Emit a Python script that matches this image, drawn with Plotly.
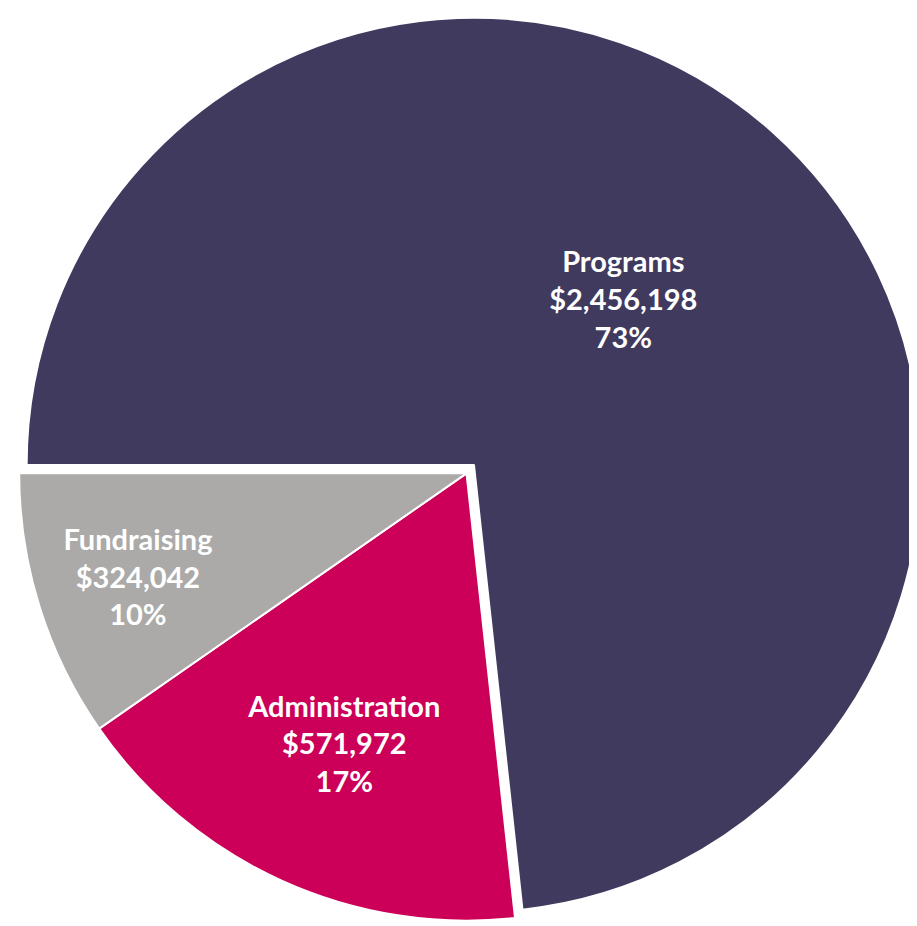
import plotly.graph_objects as go

categories = ["Programs", "Administration", "Fundraising"]
amounts = [2456198, 571972, 324042]
colors = ["#403a5f", "#cc0058", "#abaaa8"]
pulls = [0.025, 0, 0]

fig = go.Figure(go.Pie(
    labels=categories,
    values=amounts,
    sort=False,
    direction="clockwise",
    rotation=-90,
    pull=pulls,
    marker=dict(colors=colors, line=dict(color="white", width=2)),
    texttemplate="<b>%{label}</b><br><b>$%{value:,}</b><br><b>%{percent:.0%}</b>",
    textposition="inside",
    insidetextorientation="horizontal",
    textfont=dict(family="Lato", size=29, color="white"),
    hoverinfo="label+value+percent",
    domain=dict(x=[0, 1], y=[0, 0.995]),
    showlegend=False,
))

fig.update_layout(
    width=917, height=926,
    margin=dict(l=0, r=0, t=0, b=0),
    paper_bgcolor="white",
    plot_bgcolor="white",
)

fig.write_html("out.html")
